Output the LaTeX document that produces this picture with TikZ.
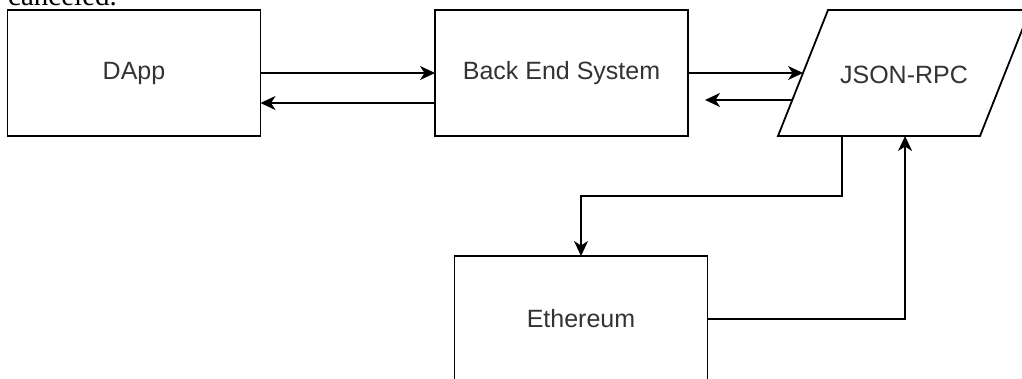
\documentclass[tikz,border=0pt]{standalone}
\usepackage{fontspec}
\setmainfont{Liberation Sans}
\newfontfamily\serifcut{Liberation Serif}
\usetikzlibrary{arrows.meta,calc}
\tikzset{
  box/.style={draw=black, line width=1.8pt, minimum width=253pt, minimum height=126pt,
    inner sep=0pt, outer sep=0pt, text=black!80, font=\fontsize{25}{28}\selectfont},
  lbl/.style={text=black!80, font=\fontsize{25}{28}\selectfont, inner sep=0pt},
  parashape/.style={draw=black, line width=1.8pt, line join=miter},
  arr/.style={draw=black, line width=1.8pt, -{Stealth[length=15pt,width=14pt,inset=4.5pt]}},
}
\begin{document}
\begin{tikzpicture}[x=1pt,y=-1pt]
\useasboundingbox (0,0) rectangle (1022,378);
\clip (0,0) rectangle (1022,378);
\fill[white] (0,0) rectangle (1022,378);
% cut-off text line above
\node[anchor=base west, inner sep=0pt, font=\serifcut\fontsize{29}{32}\selectfont] (cut) at (8,5) {canceled.};
% boxes
\node[box] (dapp) at (134,73) {DApp};
\node[box] (backend) at (561.5,73) {Back End System};
\node[box] (eth) at (581,319) {Ethereum};
% parallelogram
\coordinate (jbl) at (778,136);
\coordinate (jbr) at (980,136);
\coordinate (jtr) at (1030,10);
\coordinate (jtl) at (828,10);
\draw[parashape] (jbl) -- (jbr) -- (jtr) -- (jtl) -- cycle;
\node[lbl] (json) at (904,75) {JSON-RPC};
\coordinate (jin) at ($(jbl)!0.5!(jtl)$);
\coordinate (jout) at ($(jbl)!0.286!(jtl)$);
\coordinate (jd) at ($(jbl)!0.317!(jbr)$);
\coordinate (ju) at ($(jbl)!0.629!(jbr)$);
\coordinate (beret) at ($(backend.east |- jout)+(17,0)$);
% connectors
\draw[arr] (dapp.east) -- (backend.west);
\draw[arr] ([yshift=-30pt]backend.west) -- ([yshift=-30pt]dapp.east);
\draw[arr] (backend.east) -- (jin);
\draw[arr] (jout) -- (beret);
\draw[arr] (jd) -- ++(0,60) -| (eth.north);
\draw[arr] (eth.east) -| (ju);
\end{tikzpicture}
\end{document}
